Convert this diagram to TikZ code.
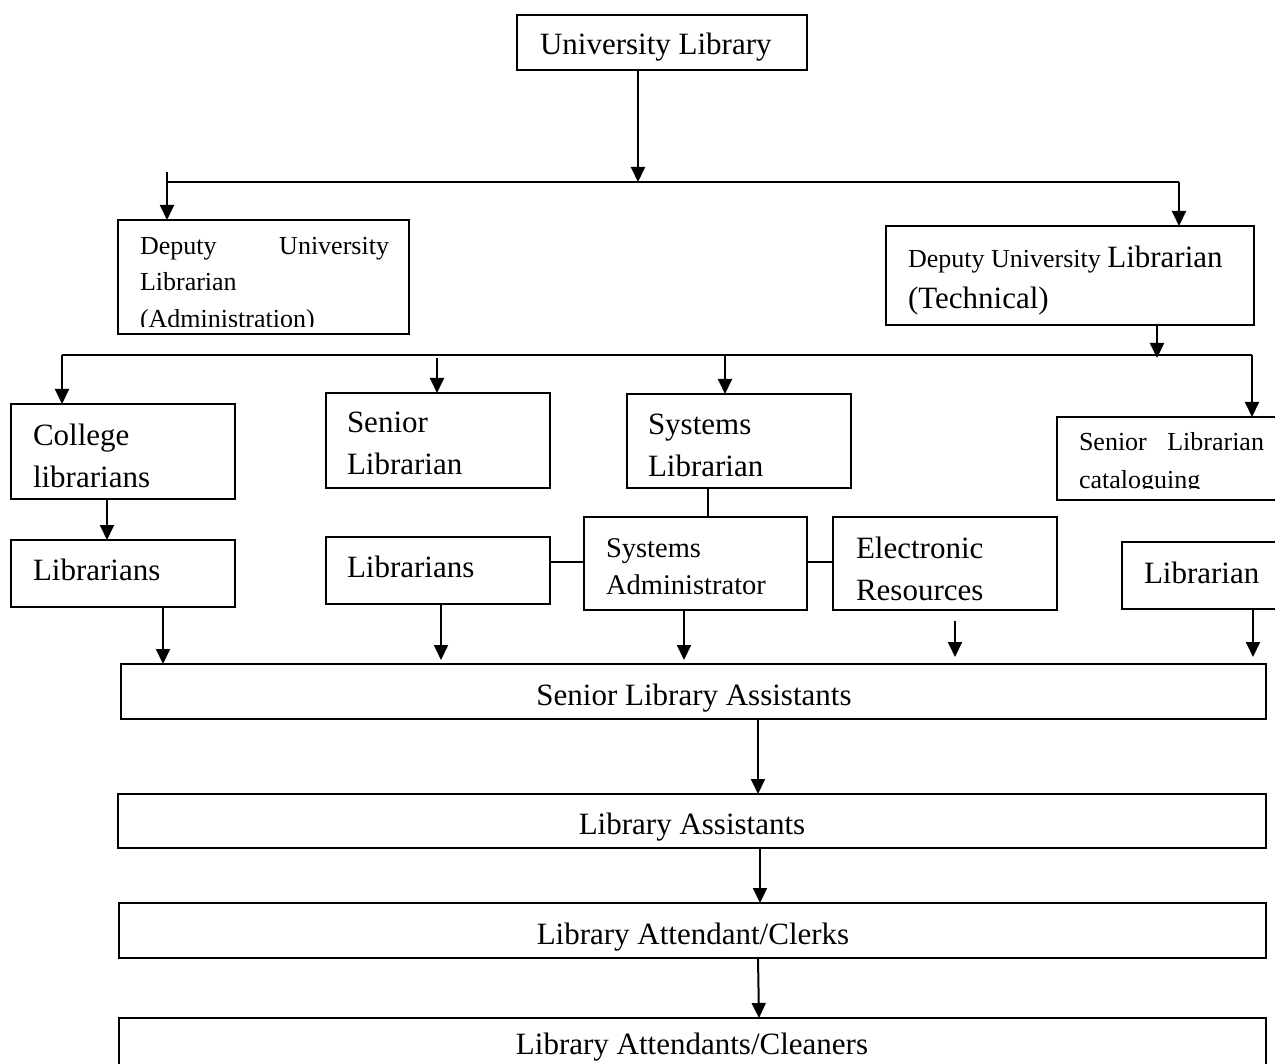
\documentclass[tikz,border=0pt]{standalone}
\usepackage{fontspec}
\setmainfont{Liberation Serif}
\usetikzlibrary{arrows.meta}
\begin{document}
\begin{tikzpicture}[x=1pt,y=-1pt,line width=2pt,
  box/.style={draw,rectangle,inner sep=0pt,outer sep=0pt,anchor=north west},
  big/.style={font=\fontsize{31}{36}\selectfont,inner sep=0pt,anchor=base west},
  mid/.style={font=\fontsize{28.5}{36}\selectfont,inner sep=0pt,anchor=base west},
  small/.style={font=\fontsize{26}{36}\selectfont,inner sep=0pt,anchor=base west},
  arr/.style={-{Triangle[length=15pt,width=14pt]}}]
\useasboundingbox (0,0) rectangle (1275,1064);
\fill[white] (0,0) rectangle (1275,1064);

% boxes
\node[box,minimum width=290pt,minimum height=55pt] (ul) at (517,15) {};
\node[box,minimum width=291pt,minimum height=114pt] (dua) at (118,220) {};
\node[box,minimum width=368pt,minimum height=99pt] (dut) at (886,226) {};
\node[box,minimum width=224pt,minimum height=95pt] (coll) at (11,404) {};
\node[box,minimum width=224pt,minimum height=95pt] (sl) at (326,393) {};
\node[box,minimum width=224pt,minimum height=94pt] (sys) at (627,394) {};
\node[box,minimum width=222pt,minimum height=83pt] (cat) at (1057,417) {};
\node[box,minimum width=224pt,minimum height=67pt] (libl) at (11,540) {};
\node[box,minimum width=224pt,minimum height=67pt] (libm) at (326,537) {};
\node[box,minimum width=223pt,minimum height=93pt] (sa) at (584,517) {};
\node[box,minimum width=224pt,minimum height=93pt] (er) at (833,517) {};
\node[box,minimum width=157pt,minimum height=67pt] (libr) at (1122,542) {};
\node[box,minimum width=1145pt,minimum height=55pt] (sla) at (121,664) {};
\node[box,minimum width=1148pt,minimum height=54pt] (la) at (118,794) {};
\node[box,minimum width=1147pt,minimum height=55pt] (lac) at (119,903) {};
\node[box,minimum width=1147pt,minimum height=50pt] (lacl) at (119,1018) {};

% texts
\node[big] (ul-t) at (539,55) {University Library};
\begin{scope}
\clip (dua.north west) rectangle (dua.east |- 0,327);
\node[small] (dua-t1) at (139,255) {\makebox[249pt][s]{Deputy University}};
\node[small] (dua-t2) at (139,291) {Librarian};
\node[small] (dua-t3) at (139,328) {(Administration)};
\end{scope}
\node[small] (dut-t1) at (907,268) {Deputy University {\fontsize{31}{36}\selectfont Librarian}};
\node[big] (dut-t2) at (907,309) {(Technical)};
\node[big] (coll-t1) at (32,446) {College};
\node[big] (coll-t2) at (32,487) {librarians};
\node[big] (sl-t1) at (346,433) {Senior};
\node[big] (sl-t2) at (346,475) {Librarian};
\node[big] (sys-t1) at (647,435) {Systems};
\node[big] (sys-t2) at (647,476) {Librarian};
\begin{scope}
\clip (cat.north west) rectangle (cat.east |- 0,489);
\node[small] (cat-t1) at (1078,451) {\makebox[185pt][s]{Senior Librarian}};
\node[small] (cat-t2) at (1078,489) {cataloguing};
\end{scope}
\node[big] (libl-t) at (32,580) {Librarians};
\node[big] (libm-t) at (346,577) {Librarians};
\node[mid] (sa-t1) at (605,557) {Systems};
\node[mid] (sa-t2) at (605,594) {Administrator};
\node[big] (er-t1) at (855,558) {Electronic};
\node[big] (er-t2) at (855,600) {Resources};
\node[big] (libr-t) at (1143,583) {Librarian};
\node[big,anchor=base] (sla-t) at (694,705) {Senior Library Assistants};
\node[big,anchor=base] (la-t) at (692,834) {Library Assistants};
\node[big,anchor=base] (lac-t) at (693,944) {Library Attendant/Clerks};
\node[big,anchor=base] (lacl-t) at (692,1054) {Library Attendants/Cleaners};

% bus coordinates
\coordinate (b1) at (638,182);
\coordinate (b1l) at (167,182);
\coordinate (b1r) at (1179,182);
\coordinate (b1lt) at (167,172);
\coordinate (b2) at (1157,358);
\coordinate (b2l) at (62,355);
\coordinate (b2r) at (1252,355);
\coordinate (b2a) at (437,358);
\coordinate (b2b) at (725,356);
\coordinate (ers) at (955,621);

% connectors
\draw[arr] (b1 |- ul.south) -- (b1);
\draw (b1l) -- (b1r);
\draw[arr] (b1lt) -- (b1lt |- dua.north);
\draw[arr] (b1r) -- (b1r |- dut.north);
\draw[arr] (b2 |- dut.south) -- (b2);
\draw (b2l) -- (b2r);
\draw[arr] (b2l) -- (b2l |- coll.north);
\draw[arr] (b2a) -- (b2a |- sl.north);
\draw[arr] (b2b) -- (b2b |- sys.north);
\draw[arr] (b2r) -- (b2r |- cat.north);
\draw[arr] (coll.south -| 107,0) -- (libl.north -| 107,0);
\draw (sys.south -| 708,0) -- (sa.north -| 708,0);
\draw (libm.east |- 0,562) -- (sa.west |- 0,562);
\draw (sa.east |- 0,562) -- (er.west |- 0,562);
\draw[arr] (libl.south -| 163,0) -- (sla.north -| 163,0);
\draw[arr] (libm.south -| 441,0) -- (441,660);
\draw[arr] (sa.south -| 684,0) -- (684,660);
\draw[arr] (ers) -- (955,657);
\draw[arr] (libr.south -| 1253,0) -- (1253,657);
\draw[arr] (sla.south -| 758,0) -- (la.north -| 758,0);
\draw[arr] (la.south -| 760,0) -- (lac.north -| 760,0);
\draw[arr] (lac.south -| 758,0) -- (lacl.north -| 759,0);
\end{tikzpicture}
\end{document}
